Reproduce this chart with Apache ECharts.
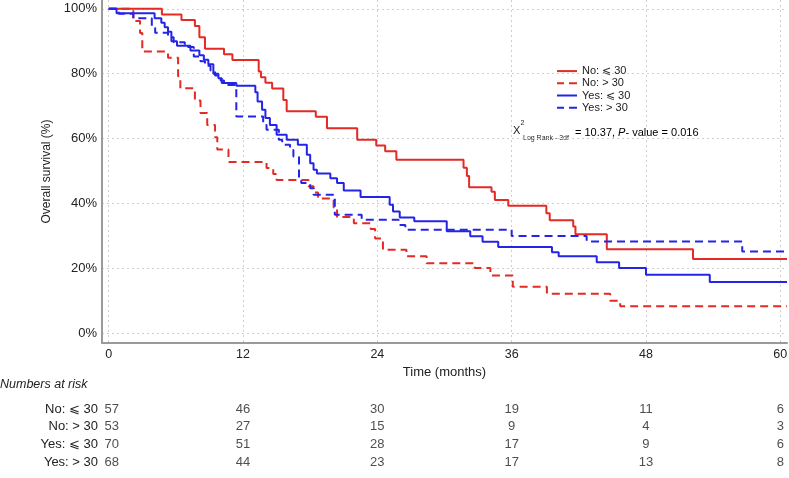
<!DOCTYPE html>
<html><head><meta charset="utf-8">
<script src="https://cdn.jsdelivr.net/npm/echarts@6/dist/echarts.min.js"></script>
<style>html,body{margin:0;padding:0;background:#fff}#c{width:789px;height:478px}</style>
</head><body><div id="c"></div>
<script>
// ---- data ----
const xTicks = [0, 12, 24, 36, 48, 60];
const yTicks = [0, 20, 40, 60, 80, 100];
const groupNames = ['No: \u2A7D 30', 'No: > 30', 'Yes: \u2A7D 30', 'Yes: > 30'];

// [month, survival %]
const noLe30 = [[0,100],[4.75,98.2],[6.5,96.5],[7.7,94.7],[8.1,91.2],[8.6,87.7],[10.3,86.0],[11.05,84.2],[13.4,80.7],[13.6,78.9],[14.0,77.2],[14.6,75.4],[15.6,71.9],[15.9,68.4],[18.5,66.7],[19.5,63.2],[22.2,59.6],[23.9,57.9],[24.7,56.1],[25.7,53.5],[31.7,51.0],[32.0,48.5],[32.2,45.0],[34.2,43.6],[34.5,41.1],[35.7,39.3],[39.1,37.0],[39.4,34.8],[41.5,32.9],[41.7,30.5],[44.5,25.9],[52.2,22.9],[60.6,22.9]];
const noGt30 = [[0,100],[2.2,96.2],[2.8,92.5],[3.0,86.8],[5.3,84.9],[6.2,79.2],[6.4,75.5],[7.7,71.7],[8.2,67.9],[8.8,64.2],[9.5,60.4],[9.7,56.6],[10.7,52.8],[14.1,50.9],[14.7,49.1],[15.0,47.2],[17.85,45.3],[18.3,43.4],[18.7,41.5],[20.1,38.7],[20.4,35.8],[21.9,33.9],[23.4,32.1],[23.8,29.2],[24.5,25.7],[26.6,23.7],[28.4,21.6],[32.7,20.1],[34.1,17.8],[36.1,14.3],[39.15,12.2],[44.8,10.0],[45.7,8.3],[60.6,8.3]];
const yesLe30 = [[0,100],[0.7,98.6],[4.1,97.1],[4.7,95.7],[5.0,94.3],[5.3,92.9],[5.6,90.0],[6.1,88.6],[7.3,87.1],[8.1,85.7],[8.5,84.3],[8.9,82.9],[9.35,80.0],[9.8,78.6],[10.1,77.1],[11.4,76.3],[13.1,74.3],[13.3,71.4],[13.7,68.9],[14.0,66.3],[14.4,64.2],[15.0,61.2],[15.9,59.6],[16.9,58.1],[17.7,55.0],[18.0,52.4],[18.3,50.4],[18.6,49.2],[19.8,47.8],[20.4,46.3],[21.0,44.0],[22.5,42.0],[25.1,39.6],[25.4,37.5],[26.0,35.7],[27.3,34.5],[30.2,31.4],[32.3,29.9],[33.4,28.2],[34.8,26.6],[39.6,25.0],[40.2,23.7],[43.6,21.9],[45.6,20.1],[48.0,18.0],[53.7,15.8],[60.6,15.8]];
const yesGt30 = [[0,100],[0.9,98.5],[2.2,97.1],[3.85,94.1],[4.15,92.6],[5.3,91.2],[5.8,89.7],[6.8,88.2],[7.6,85.3],[8.2,83.8],[8.6,82.4],[9.1,80.9],[9.5,79.4],[10.0,77.9],[10.3,76.5],[11.4,66.8],[13.8,64.2],[14.1,62.7],[15.2,59.6],[15.5,58.1],[16.2,56.5],[16.5,54.5],[17.0,47.8],[17.2,46.3],[18.0,44.7],[18.3,42.7],[20.2,36.5],[22.6,35.0],[25.9,33.4],[26.5,31.9],[36.0,30.0],[42.7,28.3],[56.6,25.2],[60.6,25.2]];

// numbers at risk
const riskTimes = [0, 12, 24, 36, 48, 60];
const riskNoLe30 = [57, 46, 30, 19, 11, 6];
const riskNoGt30 = [53, 27, 15, 9, 4, 3];
const riskYesLe30 = [70, 51, 28, 17, 9, 6];
const riskYesGt30 = [68, 44, 23, 17, 13, 8];

// ---- chart ----
const RED = '#e42a24', BLUE = '#2424e6';
const FONT = 'Liberation Sans, Arial, sans-serif';
const TXT = '#222';
const curves = [noLe30, noGt30, yesLe30, yesGt30];
const colors = [RED, RED, BLUE, BLUE];
const dashed = [false, true, false, true];
const risks = [riskNoLe30, riskNoGt30, riskYesLe30, riskYesGt30];
const ICON_SOLID = 'path://M0,0H20V2H0Z';
const ICON_DASH = 'path://M0,0H7V2H0Z M12,0H20V2H12Z';

const lineSeries = curves.map((d, i) => ({
  name: groupNames[i], type: 'line', step: 'end', data: d,
  xAxisIndex: 0, yAxisIndex: 0, symbol: 'none', silent: true, clip: true,
  lineStyle: { color: colors[i], width: 2, type: dashed[i] ? [8, 5] : 'solid' },
  itemStyle: { color: colors[i] }
}));
const riskSeries = risks.map((arr, i) => ({
  name: 'risk' + i, type: 'scatter', xAxisIndex: 1, yAxisIndex: 1,
  symbolSize: 1, silent: true, itemStyle: { color: 'rgba(0,0,0,0)' },
  data: riskTimes.map((t, k) => ({ value: [t, groupNames[i], arr[k]],
    label: k === 0 ? { offset: [3, 0] } : undefined })),
  label: { show: true, position: 'inside', formatter: p => String(p.value[2]),
    fontFamily: FONT, fontSize: 13, color: TXT }
}));

const gridLine = { show: true, lineStyle: { color: '#cfcfcf', width: 1, type: [2, 3] } };
const chart = echarts.init(document.getElementById('c'), null, { renderer: 'canvas' });
chart.setOption({
  animation: false,
  backgroundColor: '#fff',
  textStyle: { fontFamily: FONT },
  grid: [
    { left: 102, right: 2, top: 0, bottom: 135, outerBoundsMode: 'none', containLabel: false },
    { left: 102, right: 2, top: 400.2, height: 70.7, outerBoundsMode: 'none', containLabel: false }
  ],
  xAxis: [
    { type: 'value', gridIndex: 0, min: -0.6, max: 60.6,
      axisLine: { show: true, onZero: false, lineStyle: { color: '#9a9a9a', width: 2 } },
      axisTick: { show: false, customValues: xTicks },
      axisLabel: { customValues: xTicks, fontSize: 12.5, color: TXT, margin: 5 },
      splitLine: gridLine,
      name: 'Time (months)', nameLocation: 'middle', nameGap: 22,
      nameTextStyle: { fontSize: 13, color: TXT } },
    { type: 'value', gridIndex: 1, min: -0.6, max: 60.6, show: false }
  ],
  yAxis: [
    { type: 'value', gridIndex: 0, min: -3, max: 102.7,
      axisLine: { show: true, onZero: false, lineStyle: { color: '#9a9a9a', width: 2 } },
      axisTick: { show: false, customValues: yTicks },
      axisLabel: { customValues: yTicks, formatter: v => v + '%', fontSize: 13, color: TXT, margin: 5 },
      splitLine: gridLine,
      name: 'Overall survival (%)', nameLocation: 'middle', nameGap: 43,
      nameTextStyle: { fontSize: 12, color: TXT } },
    { type: 'category', gridIndex: 1, data: groupNames, inverse: true,
      axisLine: { show: false }, axisTick: { show: false }, splitLine: { show: false },
      axisLabel: { interval: 0, fontSize: 13, color: TXT, margin: 4 } }
  ],
  legend: {
    data: groupNames.map((n, i) => ({ name: n, icon: dashed[i] ? ICON_DASH : ICON_SOLID })),
    orient: 'vertical', left: 557, top: 65,
    itemWidth: 20, itemHeight: 2, itemGap: 0, padding: 0,
    textStyle: { fontSize: 11, color: TXT, lineHeight: 12.2 },
    selectedMode: false
  },
  graphic: [
    { type: 'text', left: 0, top: 378, style: { text: 'Numbers at risk', font: 'italic 12.5px ' + FONT, fill: TXT } },
    { type: 'text', left: 513, top: 125, style: { text: 'X', font: '11px ' + FONT, fill: TXT } },
    { type: 'text', left: 520.5, top: 120, style: { text: '2', font: '7px ' + FONT, fill: TXT } },
    { type: 'text', left: 523, top: 134.5, style: { text: 'Log Rank - 3df', font: '7px ' + FONT, fill: TXT } },
    { type: 'text', left: 575, top: 127, style: {
      text: '{a|= 10.37, }{b|P}{a|- value = 0.016}',
      rich: { a: { fontSize: 11, fontFamily: FONT, color: TXT }, b: { fontSize: 11, fontStyle: 'italic', fontFamily: FONT, color: TXT } } } }
  ],
  series: lineSeries.concat(riskSeries)
});
</script>
</body></html>
